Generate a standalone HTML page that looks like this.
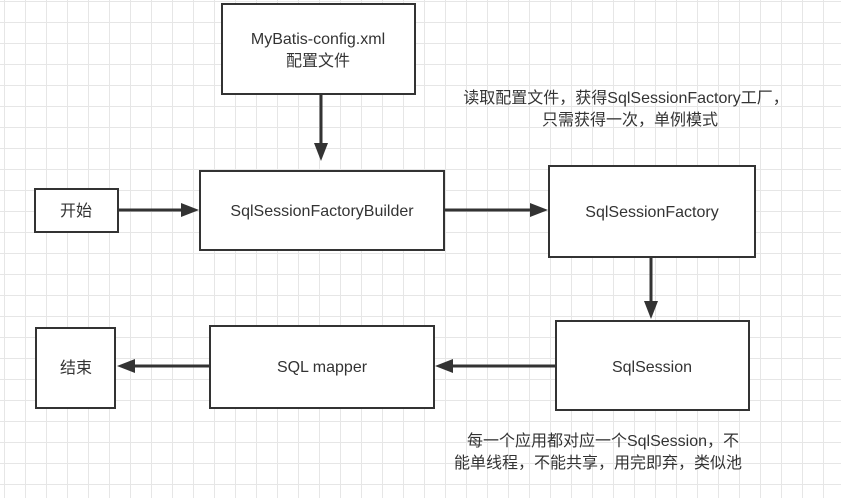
<!DOCTYPE html>
<html><head><meta charset="utf-8"><style>
html,body{margin:0;padding:0}
body{width:841px;height:498px;overflow:hidden;background:#fff;
background-image:linear-gradient(#e6e6e6 1px,transparent 1px),linear-gradient(90deg,#e6e6e6 1px,transparent 1px);
background-size:21px 21px;background-position:4px 1px;}
svg{position:absolute;left:0;top:0}
text{font-family:"Liberation Sans","Noto Sans CJK SC",sans-serif;font-size:16px;fill:#333}
</style></head><body>
<svg width="841" height="498" viewBox="0 0 841 498">
<g fill="#fff" stroke="#333" stroke-width="2">
<rect x="222" y="4" width="193" height="90"/>
<rect x="35" y="189" width="83" height="43"/>
<rect x="200" y="171" width="244" height="79"/>
<rect x="549" y="166" width="206" height="91"/>
<rect x="556" y="321" width="193" height="89"/>
<rect x="210" y="326" width="224" height="82"/>
<rect x="36" y="328" width="79" height="80"/>
</g>
<g stroke="#333" stroke-width="3" fill="none">
<line x1="321" y1="94" x2="321" y2="148"/>
<line x1="118" y1="210" x2="185" y2="210"/>
<line x1="444" y1="210" x2="535" y2="210"/>
<line x1="651" y1="257" x2="651" y2="305"/>
<line x1="556" y1="366" x2="448" y2="366"/>
<line x1="210" y1="366" x2="130" y2="366"/>
</g>
<g fill="#333">
<polygon points="314,143 328,143 321,161"/>
<polygon points="181,203 181,217 199,210"/>
<polygon points="530,203 530,217 548,210"/>
<polygon points="644,301 658,301 651,319"/>
<polygon points="453,359 453,373 435,366"/>
<polygon points="135,359 135,373 117,366"/>
</g>
<g text-anchor="middle">
<text x="318" y="44">MyBatis-config.xml</text>
<text x="318" y="66">配置文件</text>
<text x="76" y="216">开始</text>
<text x="322" y="216">SqlSessionFactoryBuilder</text>
<text x="652" y="217">SqlSessionFactory</text>
<text x="652" y="372">SqlSession</text>
<text x="322" y="372">SQL mapper</text>
<text x="76" y="373">结束</text>
<text x="626" y="103">读取配置文件，获得SqlSessionFactory工厂，</text>
<text x="630" y="125">只需获得一次，单例模式</text>
<text x="603" y="446">每一个应用都对应一个SqlSession，不</text>
<text x="598" y="468">能单线程，不能共享，用完即弃，类似池</text>
</g>
</svg>
</body></html>
